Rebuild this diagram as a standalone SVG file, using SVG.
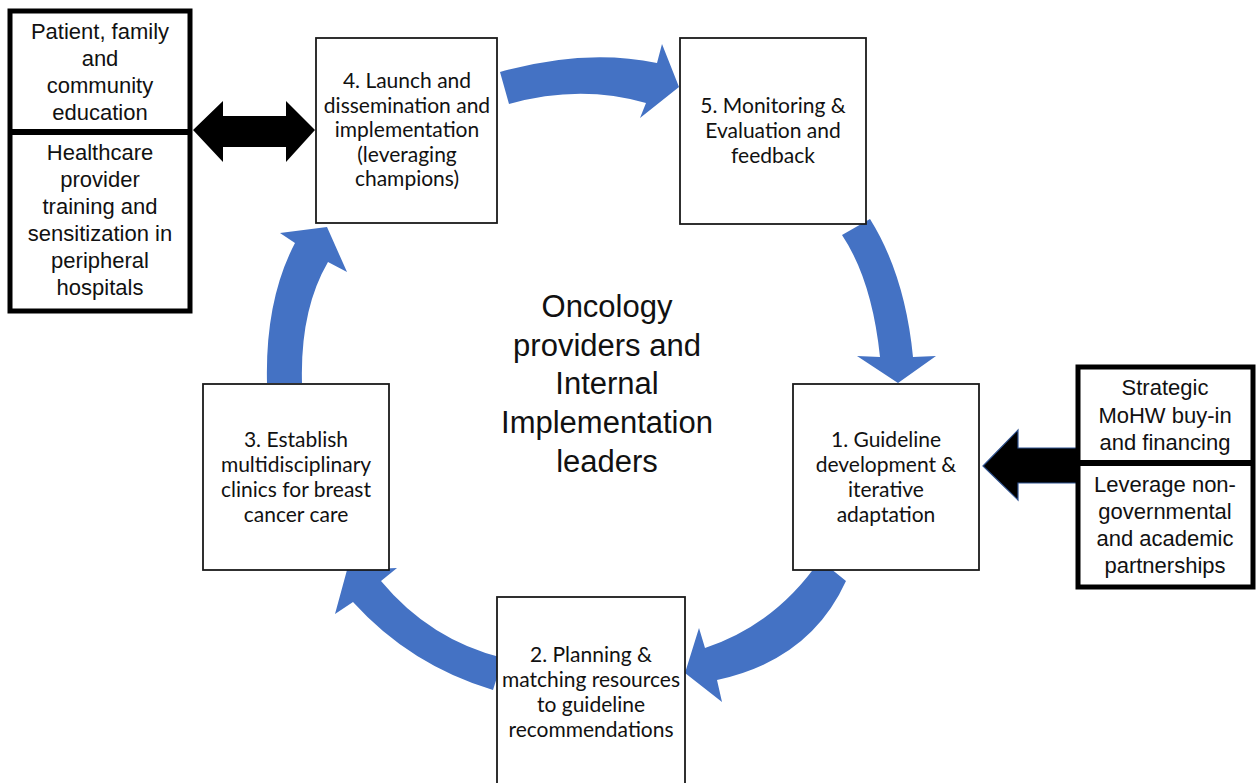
<svg xmlns="http://www.w3.org/2000/svg" width="1256" height="783" viewBox="0 0 1256 783">
<style>
.box{fill:#fff;stroke:#1a1a1a;stroke-width:1.8}
.side{fill:#fff;stroke:#000;stroke-width:5}
.blue{fill:#4472C4}
.blk{fill:#000}
.t{font-family:Lato,"Open Sans",sans-serif;font-size:21px;fill:#111;text-anchor:middle}
.s{font-family:"Liberation Sans",Arial,sans-serif;font-size:22px;fill:#111;text-anchor:middle}
.c{font-family:"Liberation Sans",Arial,sans-serif;font-size:31px;fill:#111;text-anchor:middle}
</style>
<rect width="1256" height="783" fill="#fff"/>
<g id="connectors">
<path class="blue" d="M500,72 Q585,48 657,63 L662,44 L679,87 L640,118 L646,103 Q580,84 509,104 Z"/>
<path class="blue" d="M842,235 Q872,280 880,357 L857,356 L898,383 L936,356 L913,357 Q905,275 870,219 Z"/>
<path class="blue" d="M820,560 Q775,625 705,648 L699,628 L685,673 L722,702 L717,680 Q810,660 846,581 Z"/>
<path class="blue" d="M503,658 Q430,640 381,581 L397,568 L347,570 L335,614 L353,602 Q410,665 493,690 Z"/>
<path class="blue" d="M267,383 Q265,300 295,243 L280,233 L327,227 L347,272 L328,262 Q300,310 302,383 Z"/>
<path class="blk" d="M193,130 L223,101 L223,116 L286,116 L286,101 L315,130 L286,162 L286,147 L223,147 L223,162 Z"/>
<path class="blk" stroke="#2F528F" stroke-width="1.2" d="M983,466 L1018,430 L1018,448 L1077,448 L1077,483 L1018,483 L1018,500 Z"/>
</g>
<g id="node4">
<rect class="box" x="316" y="38" width="181" height="185"/>
<text class="t"><tspan x="407" y="88">4. Launch and</tspan><tspan x="407" y="113">dissemination and</tspan><tspan x="407" y="137">implementation</tspan><tspan x="407" y="162">(leveraging</tspan><tspan x="407" y="186">champions)</tspan></text>
</g>
<g id="node5">
<rect class="box" x="680" y="38" width="186" height="186"/>
<text class="t"><tspan x="773" y="113">5. Monitoring &amp;</tspan><tspan x="773" y="138">Evaluation and</tspan><tspan x="773" y="163">feedback</tspan></text>
</g>
<g id="node1">
<rect class="box" x="793" y="384" width="186" height="186"/>
<text class="t"><tspan x="886" y="447">1. Guideline</tspan><tspan x="886" y="472">development &amp;</tspan><tspan x="886" y="497">iterative</tspan><tspan x="886" y="522">adaptation</tspan></text>
</g>
<g id="node2">
<rect class="box" x="497" y="597" width="188" height="200"/>
<text class="t"><tspan x="591" y="662">2. Planning &amp;</tspan><tspan x="591" y="687">matching resources</tspan><tspan x="591" y="712">to guideline</tspan><tspan x="591" y="737">recommendations</tspan></text>
</g>
<g id="node3">
<rect class="box" x="203" y="384" width="186" height="186"/>
<text class="t"><tspan x="296" y="447">3. Establish</tspan><tspan x="296" y="472">multidisciplinary</tspan><tspan x="296" y="497">clinics for breast</tspan><tspan x="296" y="522">cancer care</tspan></text>
</g>
<g id="center">
<text class="c"><tspan x="607" y="317">Oncology</tspan><tspan x="607" y="356">providers and</tspan><tspan x="607" y="394">Internal</tspan><tspan x="607" y="433">Implementation</tspan><tspan x="607" y="472">leaders</tspan></text>
</g>
<g id="left-side">
<rect class="side" x="10" y="11" width="180" height="300"/>
<line x1="10" y1="132" x2="190" y2="132" stroke="#000" stroke-width="6"/>
<text class="s"><tspan x="100" y="39">Patient, family</tspan><tspan x="100" y="66">and</tspan><tspan x="100" y="93">community</tspan><tspan x="100" y="120">education</tspan></text>
<text class="s"><tspan x="100" y="160">Healthcare</tspan><tspan x="100" y="187">provider</tspan><tspan x="100" y="214">training and</tspan><tspan x="100" y="241">sensitization in</tspan><tspan x="100" y="268">peripheral</tspan><tspan x="100" y="295">hospitals</tspan></text>
</g>
<g id="right-side">
<rect class="side" x="1078" y="367" width="175" height="220"/>
<line x1="1078" y1="463" x2="1253" y2="463" stroke="#000" stroke-width="6"/>
<text class="s"><tspan x="1165" y="395">Strategic</tspan><tspan x="1165" y="423">MoHW buy-in</tspan><tspan x="1165" y="450">and financing</tspan></text>
<text class="s"><tspan x="1165" y="492">Leverage non-</tspan><tspan x="1165" y="519">governmental</tspan><tspan x="1165" y="546">and academic</tspan><tspan x="1165" y="573">partnerships</tspan></text>
</g>
</svg>
